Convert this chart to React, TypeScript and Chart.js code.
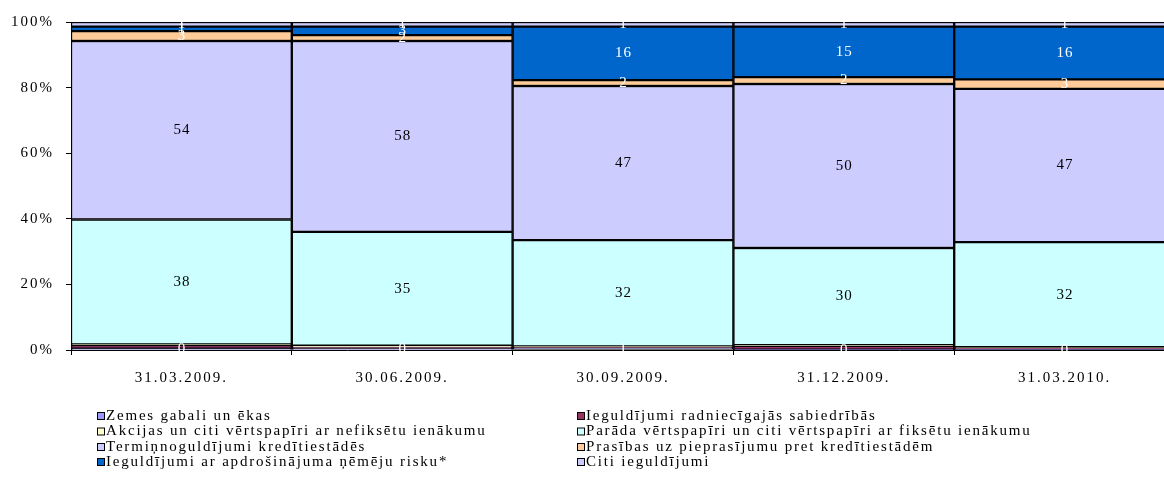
import React, { useEffect, useRef } from "react";
import { Chart, registerables } from "chart.js";

Chart.register(...registerables);

const categories = ["31.03.2009.", "30.06.2009.", "30.09.2009.", "31.12.2009.", "31.03.2010."];
const zemes = [0.4, 0.4, 0.6, 0.1, 0.1];
const radniecigajas = [1.1, 0.5, 0.3, 1.2, 0.6];
const akcijas = [0.2, 0.4, 0.2, 0.2, 0.2];
const parada = [38.1, 34.7, 32.4, 29.6, 32.0];
const terminnoguldijumi = [54.4, 58.2, 47.0, 50.0, 46.7];
const prasibas = [3.0, 1.8, 1.8, 2.1, 2.9];
const apdrosinajuma = [1.4, 2.6, 16.3, 15.4, 16.1];
const citi = [1.4, 1.4, 1.4, 1.4, 1.4];
const yTicks = [0, 20, 40, 60, 80, 100];

const seriesNames = [
  "Zemes gabali un ēkas",
  "Ieguldījumi radniecīgajās sabiedrībās",
  "Akcijas un citi vērtspapīri ar nefiksētu ienākumu",
  "Parāda vērtspapīri un citi vērtspapīri ar fiksētu ienākumu",
  "Termiņnoguldījumi kredītiestādēs",
  "Prasības uz pieprasījumu pret kredītiestādēm",
  "Ieguldījumi ar apdrošinājuma ņēmēju risku*",
  "Citi ieguldījumi",
];
const seriesValues = [zemes, radniecigajas, akcijas, parada, terminnoguldijumi, prasibas, apdrosinajuma, citi];
const seriesColors = ["#9999FF", "#993366", "#FFFFCC", "#CCFFFF", "#CCCCFF", "#FFCC99", "#0066CC", "#CCCCFF"];
const labelled = [true, false, false, true, true, true, true, true];
const labelColors = ["#FFFFFF", "#FFFFFF", "#FFFFFF", "#000000", "#000000", "#FFFFFF", "#FFFFFF", "#FFFFFF"];

const FONT = "'Liberation Serif', 'Times New Roman', serif";

const spacingPlugin = {
  id: "spacing",
  beforeDraw(chart: any) {
    chart.ctx.letterSpacing = "2px";
  },
};

const valueLabels = {
  id: "valueLabels",
  afterDatasetsDraw(chart: any) {
    const ctx = chart.ctx;
    ctx.save();
    ctx.letterSpacing = "1px";
    ctx.font = `15px ${FONT}`;
    ctx.textAlign = "center";
    ctx.textBaseline = "middle";
    chart.data.datasets.forEach((ds: any, i: number) => {
      if (!labelled[i]) return;
      ctx.fillStyle = labelColors[i];
      const meta = chart.getDatasetMeta(i);
      meta.data.forEach((el: any, j: number) => {
        const v = ds.data[j];
        const y = (el.y + el.base) / 2;
        ctx.fillText(String(Math.round(v)), el.x + 0.5, y);
      });
    });
    ctx.restore();
  },
};

const legendPlugin = {
  id: "customLegend",
  afterDraw(chart: any) {
    const ctx = chart.ctx;
    ctx.save();
    ctx.letterSpacing = "1.8px";
    ctx.font = `15px ${FONT}`;
    ctx.textBaseline = "middle";
    ctx.textAlign = "left";
    const colX = [97, 577];
    const rowY = [416, 431.5, 447, 462];
    seriesNames.forEach((name, i) => {
      const x = colX[i % 2];
      const y = rowY[Math.floor(i / 2)];
      ctx.fillStyle = seriesColors[i];
      ctx.fillRect(x + 0.5, y - 3.5, 7, 7);
      ctx.strokeStyle = "#000";
      ctx.lineWidth = 1;
      ctx.strokeRect(x + 0.5, y - 3.5, 7, 7);
      ctx.fillStyle = "#000";
      ctx.fillText(name, x + 9, y);
    });
    ctx.restore();
  },
};

export default function App() {
  const ref = useRef<HTMLCanvasElement>(null);
  useEffect(() => {
    if (!ref.current) return;
    const chart = new Chart(ref.current, {
      type: "bar",
      data: {
        labels: categories,
        datasets: seriesValues.map((vals, i) => ({
          label: seriesNames[i],
          data: vals,
          backgroundColor: seriesColors[i],
          borderColor: "#000",
          borderWidth: 1.5,
          borderSkipped: false,
          categoryPercentage: 1,
          barPercentage: 1,
        })),
      },
      options: {
        animation: false,
        responsive: false,
        layout: { padding: { top: 22, right: 15, left: 0, bottom: 89 } },
        plugins: { legend: { display: false }, tooltip: { enabled: false } },
        scales: {
          x: {
            stacked: true,
            afterFit: (s: any) => { s.height = 40; },
            grid: { offset: true, drawOnChartArea: false, drawTicks: true, tickLength: 5, color: "#000" },
            border: { display: true, color: "#000" },
            ticks: { color: "#000", font: { family: FONT, size: 15 }, padding: 14, maxRotation: 0 },
          },
          y: {
            stacked: true,
            min: 0,
            max: 100,
            afterFit: (s: any) => { s.width = 71; },
            afterBuildTicks: (s: any) => { s.ticks = yTicks.map((v) => ({ value: v })); },
            grid: { drawOnChartArea: false, drawTicks: true, tickLength: 5, color: "#000" },
            border: { display: true, color: "#000" },
            ticks: {
              color: "#000",
              font: { family: FONT, size: 15 },
              padding: 12,
              callback: (v: any) => `${v}%`,
            },
          },
        },
      },
      plugins: [spacingPlugin, valueLabels, legendPlugin],
    });
    return () => chart.destroy();
  }, []);
  return (
    <div style={{ position: "fixed", left: 0, top: 0, width: 1164, height: 479, overflow: "hidden", background: "#fff" }}>
      <canvas ref={ref} width={1190} height={479} />
    </div>
  );
}
